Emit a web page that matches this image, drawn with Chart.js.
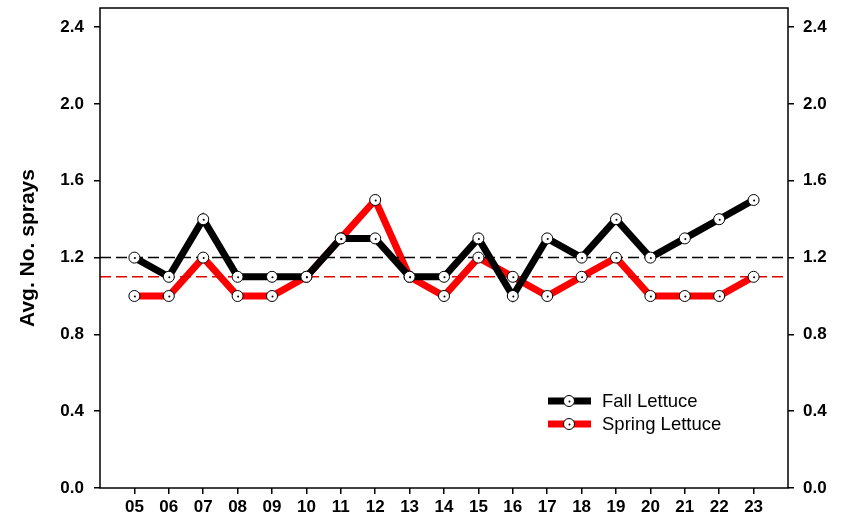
<!DOCTYPE html>
<html>
<head>
<meta charset="utf-8">
<script src="https://cdn.jsdelivr.net/npm/chart.js@4"></script>
<style>
  html, body { margin: 0; padding: 0; background: #fff; }
  #wrap { width: 854px; height: 519px; position: relative; }
</style>
</head>
<body>
<div id="wrap"><canvas id="sprayChart" width="854" height="519"></canvas></div>
<script>
// seasons 2005..2023
const years = [5, 6, 7, 8, 9, 10, 11, 12, 13, 14, 15, 16, 17, 18, 19, 20, 21, 22, 23];
const yearLabels = ['05','06','07','08','09','10','11','12','13','14','15','16','17','18','19','20','21','22','23'];
const fallLettuce   = [1.2, 1.1, 1.4, 1.1, 1.1, 1.1, 1.3, 1.3, 1.1, 1.1, 1.3, 1.0, 1.3, 1.2, 1.4, 1.2, 1.3, 1.4, 1.5];
const springLettuce = [1.0, 1.0, 1.2, 1.0, 1.0, 1.1, 1.3, 1.5, 1.1, 1.0, 1.2, 1.1, 1.0, 1.1, 1.2, 1.0, 1.0, 1.0, 1.1];
const fallMean = 1.2;
const springMean = 1.1;
const yTicks = [0, 0.4, 0.8, 1.2, 1.6, 2.0, 2.4];
const xMin = 4, xMax = 24;

const FONT = 'Arial, "Liberation Sans", Helvetica, sans-serif';

function pts(vals) { return years.map((x, i) => ({ x: x, y: vals[i] })); }
function flat(v) { return [{ x: xMin, y: v }, { x: xMax, y: v }]; }

const pointStyle = {
  showLine: false,
  pointRadius: 5.5,
  pointBackgroundColor: '#fff',
  pointBorderColor: '#000',
  pointBorderWidth: 1
};

// frame, tiny center dots, legend
const extras = {
  id: 'extras',
  afterDatasetsDraw(chart) {
    const ctx = chart.ctx;
    const a = chart.chartArea;
    ctx.save();
    ctx.fillStyle = '#000';
    [4, 5].forEach(di => {
      chart.getDatasetMeta(di).data.forEach(p => {
        ctx.beginPath();
        ctx.arc(p.x + 0.5, p.y + 0.5, 1, 0, Math.PI * 2);
        ctx.fill();
      });
    });
    ctx.strokeStyle = '#000';
    ctx.lineWidth = 1.5;
    ctx.strokeRect(a.left, a.top, a.right - a.left, a.bottom - a.top);

    const items = [['Fall Lettuce', '#000'], ['Spring Lettuce', '#ff0000']];
    items.forEach((it, i) => {
      const y = 401 + i * 23;
      ctx.strokeStyle = it[1];
      ctx.lineWidth = 7;
      ctx.beginPath();
      ctx.moveTo(548, y);
      ctx.lineTo(591, y);
      ctx.stroke();
      ctx.beginPath();
      ctx.arc(569, y, 5.5, 0, Math.PI * 2);
      ctx.fillStyle = '#fff';
      ctx.fill();
      ctx.lineWidth = 1;
      ctx.strokeStyle = '#000';
      ctx.stroke();
      ctx.fillStyle = '#000';
      ctx.beginPath();
      ctx.arc(569.5, y + 0.5, 1, 0, Math.PI * 2);
      ctx.fill();
      ctx.font = '18.5px ' + FONT;
      ctx.textBaseline = 'middle';
      ctx.textAlign = 'left';
      ctx.fillText(it[0], 602, y + 1);
    });
    ctx.restore();
  }
};

const tickFont = { family: FONT, size: 17, weight: 'bold' };

function noOverhang(axis) {
  axis.paddingTop = 0;
  axis.paddingBottom = 0;
}

const ctx = document.getElementById('sprayChart').getContext('2d');
new Chart(ctx, {
  type: 'line',
  data: {
    datasets: [
      { data: flat(fallMean), borderColor: '#000', borderWidth: 1.5, borderDash: [11, 5], pointRadius: 0, order: 3 },
      { data: flat(springMean), borderColor: '#e00000', borderWidth: 1.5, borderDash: [11, 5], pointRadius: 0, order: 3 },
      { data: pts(fallLettuce), borderColor: '#000', borderWidth: 7, pointRadius: 0, order: 2 },
      { data: pts(springLettuce), borderColor: '#ff0000', borderWidth: 7, pointRadius: 0, order: 4 },
      Object.assign({ data: pts(fallLettuce), order: 1 }, pointStyle),
      Object.assign({ data: pts(springLettuce), order: 1 }, pointStyle)
    ]
  },
  options: {
    responsive: false,
    animation: false,
    layout: { padding: { top: 8, left: 0, right: 0, bottom: 0 } },
    plugins: { legend: { display: false }, tooltip: { enabled: false } },
    scales: {
      x: {
        type: 'linear',
        min: xMin, max: xMax,
        afterBuildTicks(axis) { axis.ticks = years.map(v => ({ value: v })); },
        afterFit(axis) { axis.height = 31; axis.paddingLeft = 0; axis.paddingRight = 0; },
        grid: { drawOnChartArea: false, tickLength: 6, color: '#000', lineWidth: 1.5 },
        border: { display: false },
        ticks: {
          color: '#000', padding: 3, maxRotation: 0, autoSkip: false,
          font: tickFont,
          callback(v) { const i = years.indexOf(v); return i >= 0 ? yearLabels[i] : ''; }
        }
      },
      y: {
        position: 'left',
        min: 0, max: 2.5,
        afterBuildTicks(axis) { axis.ticks = yTicks.map(v => ({ value: v })); },
        afterFit(axis) { axis.width = 100; noOverhang(axis); },
        grid: { drawOnChartArea: false, tickLength: 6, color: '#000', lineWidth: 1.5 },
        border: { display: false },
        title: { display: true, text: 'Avg. No. sprays', color: '#000', font: { family: FONT, size: 21, weight: 'bold' }, padding: { top: 16, bottom: 0 } },
        ticks: { color: '#000', padding: 10, font: tickFont, callback: v => v.toFixed(1) }
      },
      y2: {
        position: 'right',
        min: 0, max: 2.5,
        afterBuildTicks(axis) { axis.ticks = yTicks.map(v => ({ value: v })); },
        afterFit(axis) { axis.width = 66; noOverhang(axis); },
        grid: { drawOnChartArea: false, tickLength: 6, color: '#000', lineWidth: 1.5 },
        border: { display: false },
        ticks: { color: '#000', padding: 9, font: tickFont, callback: v => v.toFixed(1) }
      }
    }
  },
  plugins: [extras]
});
</script>
</body>
</html>
